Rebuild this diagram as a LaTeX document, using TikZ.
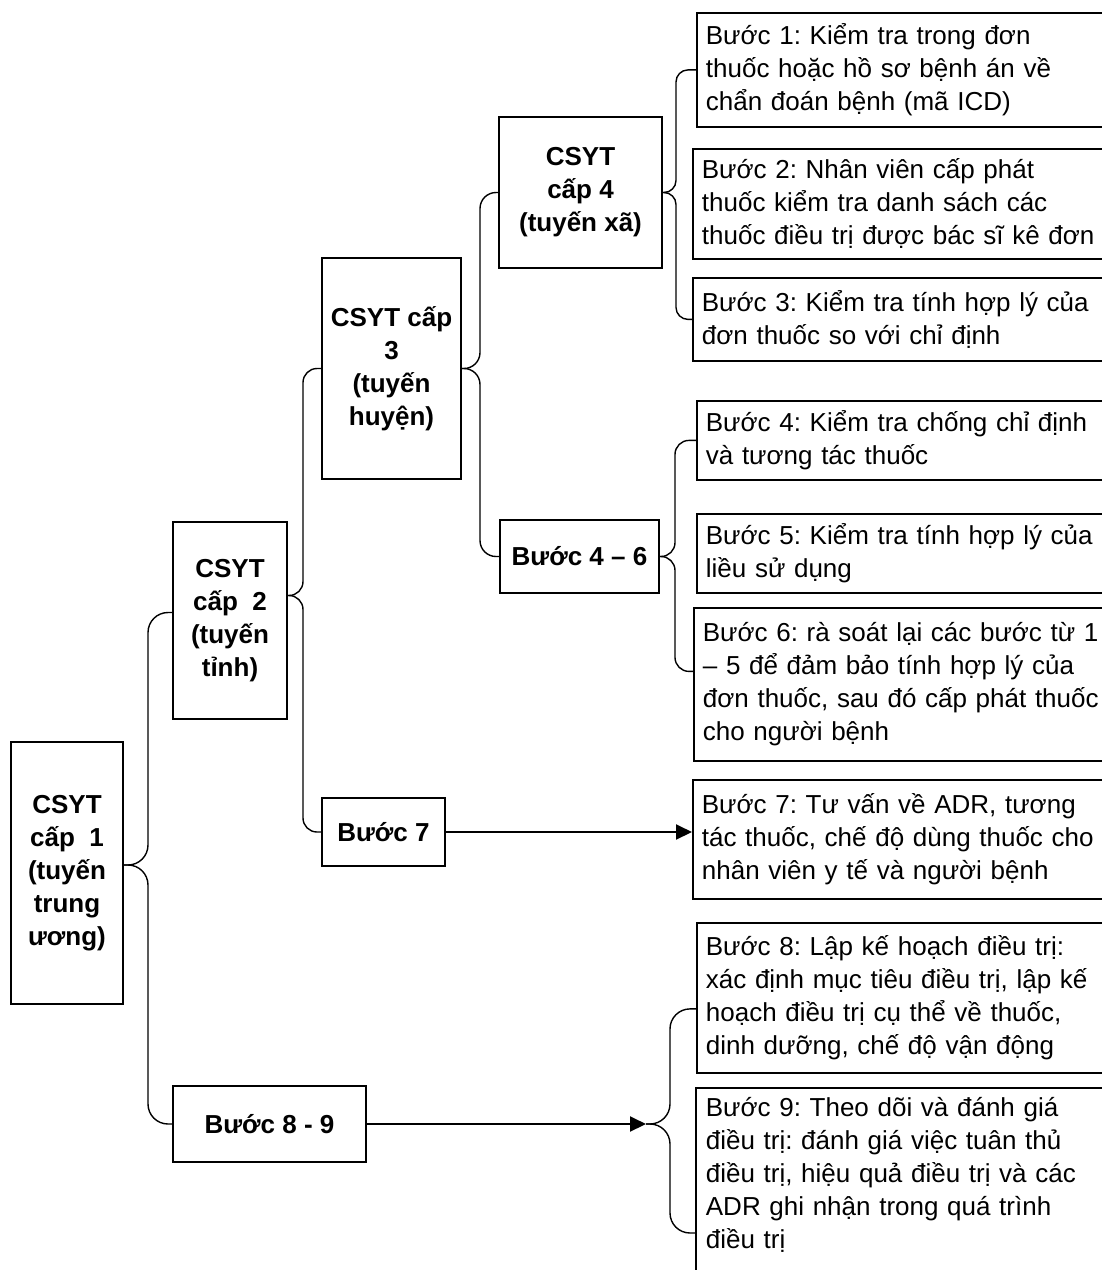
\documentclass[tikz,border=0pt]{standalone}
\usepackage{fontspec}
\setmainfont{Liberation Sans}
\usepackage{tikz}
\usetikzlibrary{arrows.meta,calc,positioning}
\frenchspacing

\begin{document}
\begin{tikzpicture}[x=1pt,y=-1pt,
  lvlbox/.style={draw,line width=2pt,font=\fontsize{26}{33}\selectfont\bfseries,align=center,inner sep=0pt},
  stepbox/.style={draw,line width=1.8pt,font=\fontsize{26}{33}\selectfont,align=left,text width=420pt,inner xsep=9pt,inner ysep=6pt,anchor=north west},
  brace/.style={line width=1.4pt,rounded corners=#1},
  arr/.style={line width=2pt,-{Triangle[length=16pt,width=15pt]}}]
  \useasboundingbox[fill=white] (0,0) rectangle (1102,1270);

  % levels on the left
  \node[lvlbox,minimum width=112pt,minimum height=262pt] (c1) at (67,873) {CSYT\\cấp~ 1\\(tuyến\\trung\\ương)};
  \node[lvlbox,minimum width=114pt,minimum height=197pt] (c2) at (230,620.5) {CSYT\\cấp~ 2\\(tuyến\\tỉnh)};
  \node[lvlbox,minimum width=139pt,minimum height=221pt] (c3) at (391.5,368.5) {CSYT cấp\\3\\(tuyến\\huyện)};
  \node[lvlbox,minimum width=163pt,minimum height=151pt] (c4) at (580.5,192.5) {CSYT\\cấp 4\\(tuyến xã)};
  \node[lvlbox,minimum width=159pt,minimum height=73pt] (s46) at (579.5,556.5) {Bước 4 – 6};
  \node[lvlbox,minimum width=123pt,minimum height=68pt] (s7) at (383.5,832) {Bước 7};
  \node[lvlbox,minimum width=193pt,minimum height=76pt] (s89) at (269.5,1124) {Bước 8 - 9};

  % steps on the right
  \node[stepbox,minimum height=114pt] (b1) at (696,12) {Bước 1: Kiểm tra trong đơn\\thuốc hoặc hồ sơ bệnh án về\\chẩn đoán bệnh (mã ICD)};
  \node[stepbox,minimum height=110pt] (b2) at (692,148) {Bước 2: Nhân viên cấp phát\\thuốc kiểm tra danh sách các\\thuốc điều trị được bác sĩ kê đơn};
  \node[stepbox,minimum height=83pt] (b3) at (692,277) {Bước 3: Kiểm tra tính hợp lý của\\đơn thuốc so với chỉ định};
  \node[stepbox,minimum height=79pt] (b4) at (696,400) {Bước 4: Kiểm tra chống chỉ định\\và tương tác thuốc};
  \node[stepbox,minimum height=79pt] (b5) at (696,513) {Bước 5: Kiểm tra tính hợp lý của\\liều sử dụng};
  \node[stepbox,minimum height=153pt] (b6) at (693,607) {Bước 6: rà soát lại các bước từ 1\\– 5 để đảm bảo tính hợp lý của\\đơn thuốc, sau đó cấp phát thuốc\\cho người bệnh};
  \node[stepbox,minimum height=119pt] (b7) at (692,779) {Bước 7: Tư vấn về ADR, tương\\tác thuốc, chế độ dùng thuốc cho\\nhân viên y tế và người bệnh};
  \node[stepbox,minimum height=150pt] (b8) at (696,922) {Bước 8: Lập kế hoạch điều trị:\\xác định mục tiêu điều trị, lập kế\\hoạch điều trị cụ thể về thuốc,\\dinh dưỡng, chế độ vận động};
  \node[stepbox,draw=none,inner ysep=8pt] (b9) at (696,1088) {Bước 9: Theo dõi và đánh giá\\điều trị: đánh giá việc tuân thủ\\điều trị, hiệu quả điều trị và các\\ADR ghi nhận trong quá trình\\điều trị};
  \draw[line width=1.8pt] (b9.north east) -- (b9.north west) -- ($(b9.south west)+(0,60)$);

  % spines and tips of the braces
  \coordinate (k1) at (148,0); \coordinate (k2) at (303,0); \coordinate (k3) at (480,0);
  \coordinate (k4) at (676,0); \coordinate (k5) at (675,0); \coordinate (k6) at (670,0);
  \coordinate (t1) at ($(c1.east)+(0,-8)$);
  \coordinate (t2) at ($(c2.east)+(0,-25)$);
  \coordinate (t89) at ($(s89.east)+(279,0)$);
  \coordinate (e1) at ($(c2.west)+(0,-8)$);
  \coordinate (e6) at ($(b6.west)+(0,-13)$);
  \coordinate (e8) at ($(b8.west)+(0,11)$);
  \coordinate (e9) at ($(b9.north west)+(0,145)$);

  \draw[brace=20pt] (t1) -| (e1 -| k1) -- (e1);
  \draw[brace=20pt] (t1) -| (s89.west -| k1) -- (s89.west);
  \draw[brace=14pt] (t2) -| (c3.west -| k2) -- (c3.west);
  \draw[brace=14pt] (t2) -| (s7.west -| k2) -- (s7.west);
  \draw[brace=16pt] (c3.east) -| (c4.west -| k3) -- (c4.west);
  \draw[brace=16pt] (c3.east) -| (s46.west -| k3) -- (s46.west);
  \draw[brace=12pt] (c4.east) -| (b1.west -| k4) -- (b1.west);
  \draw[brace=12pt] (c4.east) -| (b3.west -| k4) -- (b3.west);
  \draw[brace=14pt] (s46.east) -| (b4.west -| k5) -- (b4.west);
  \draw[brace=14pt] (s46.east) -| (e6 -| k5) -- (e6);
  \draw[brace=20pt] (t89) -| (e8 -| k6) -- (e8);
  \draw[brace=20pt] (t89) -| (e9 -| k6) -- (e9);

  % arrows
  \draw[arr] (s7.east) -- (s7.east -| b7.west);
  \draw[arr] (s89.east) -- (t89);
\end{tikzpicture}
\end{document}
